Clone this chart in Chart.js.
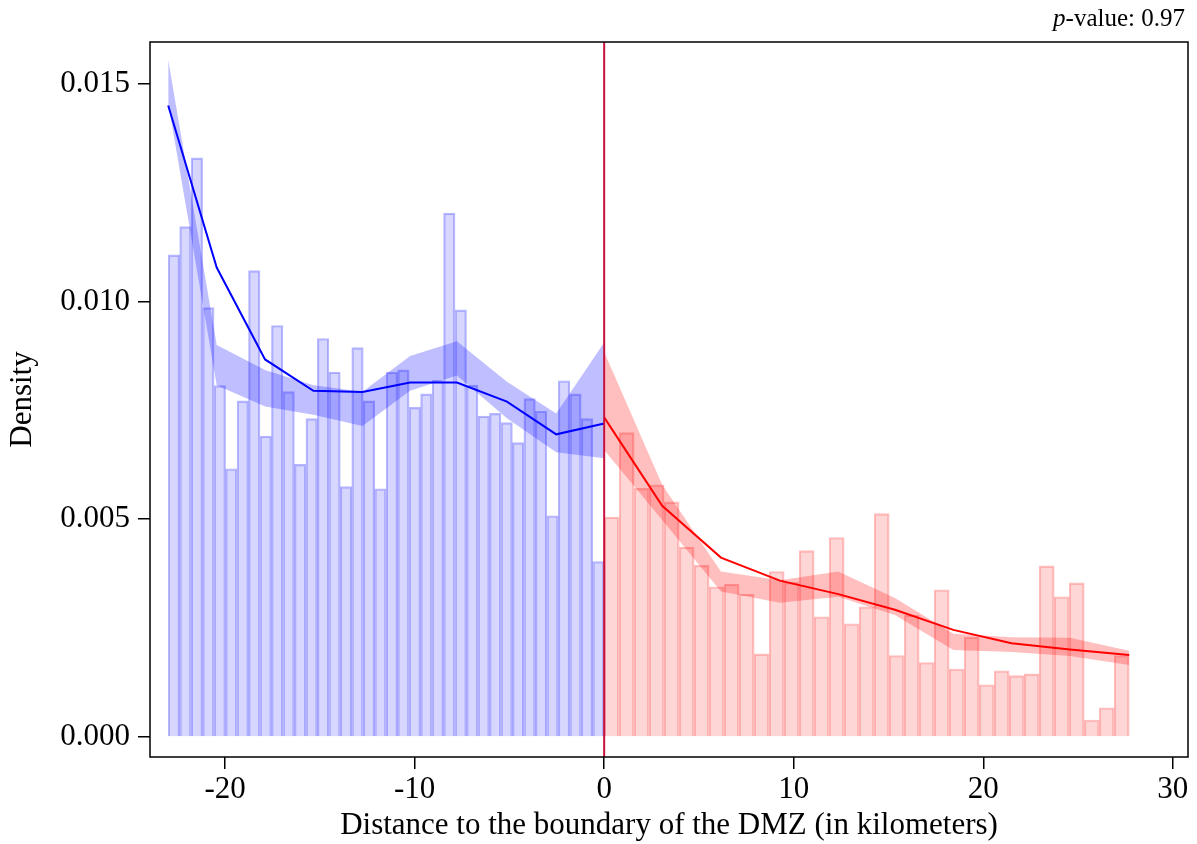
<!DOCTYPE html>
<html>
<head>
<meta charset="utf-8">
<script src="https://cdn.jsdelivr.net/npm/chart.js@4.4.1/dist/chart.umd.min.js"></script>
<style>
  html, body { margin: 0; padding: 0; background: #ffffff; }
  #wrap { width: 1197px; height: 844px; position: relative; }
</style>
</head>
<body>
<div id="wrap"><canvas id="c" width="1197" height="844"></canvas></div>
<script>
// ---------- DATA ----------
// histogram bins (left of the boundary: 38 bins from -23 to 0; right: 35 bins from 0 to 27.7)
const blueBinStart = -23.0;
const blueBinEnd = 0.0;
const redBinStart = 0.0;
const redBinEnd = 27.7;

const blueDensity = [0.01107,0.01172,0.01330,0.00986,0.00807,0.00616,0.00772,0.01071,0.00691,0.00945,
                     0.00793,0.00626,0.00731,0.00915,0.00838,0.00575,0.00894,0.00772,0.00570,0.00838,
                     0.00843,0.00757,0.00788,0.00819,0.01203,0.00981,0.00808,0.00737,0.00743,0.00722,
                     0.00676,0.00777,0.00748,0.00508,0.00818,0.00788,0.00731,0.00403];
const redDensity  = [0.00505,0.00699,0.00571,0.00579,0.00540,0.00436,0.00394,0.00345,0.00351,0.00328,
                     0.00191,0.00380,0.00355,0.00428,0.00276,0.00458,0.00260,0.00299,0.00513,0.00187,
                     0.00280,0.00171,0.00338,0.00156,0.00229,0.00120,0.00152,0.00141,0.00145,0.00393,
                     0.00322,0.00354,0.00039,0.00067,0.00187];

// fitted density (left side) with confidence band
const blueFitX  = [-23.0,-20.44,-17.89,-15.34,-12.75,-10.24,-7.77,-5.13,-2.53,0.0];
const blueFit   = [0.01450,0.01078,0.00867,0.00795,0.00792,0.00814,0.00814,0.00770,0.00695,0.00720];
const blueUpper = [0.01555,0.00900,0.00843,0.00808,0.00793,0.00875,0.00909,0.00816,0.00743,0.00906];
const blueLower = [0.01456,0.00808,0.00759,0.00740,0.00714,0.00795,0.00830,0.00732,0.00654,0.00640];

// fitted density (right side) with confidence band
const redFitX  = [0.0,3.06,6.16,9.27,12.35,15.34,18.42,21.49,24.57,27.7];
const redFit   = [0.00734,0.00531,0.00412,0.00359,0.00328,0.00292,0.00246,0.00215,0.00201,0.00188];
const redUpper = [0.00884,0.00579,0.00380,0.00360,0.00380,0.00319,0.00237,0.00229,0.00228,0.00198];
const redLower = [0.00659,0.00498,0.00334,0.00308,0.00322,0.00280,0.00200,0.00195,0.00186,0.00165];

const xTicks = [-20,-10,0,10,20,30];
const yTicks = [0.000,0.005,0.010,0.015];
const xTitle = 'Distance to the boundary of the DMZ (in kilometers)';
const yTitle = 'Density';
const pValueText = '0.97';
const cutoff = 0;

// ---------- BUILD ----------
function binCenters(start, end, n) {
  const w = (end - start) / n;
  const out = [];
  for (let i = 0; i < n; i++) out.push(start + w * (i + 0.5));
  return out;
}
const blueCenters = binCenters(blueBinStart, blueBinEnd, blueDensity.length);
const redCenters = binCenters(redBinStart, redBinEnd, redDensity.length);
const pts = (xs, ys) => xs.map((x, i) => ({x: x, y: ys[i]}));

const X_MIN = -23.96, X_MAX = 30.8, Y_MIN = -0.00046, Y_MAX = 0.01596;
const SERIF = '"Liberation Serif", "DejaVu Serif", serif';
const FS = 31;

const framePlugin = {
  id: 'frame',
  afterDatasetsDraw(chart) {
    const {ctx, chartArea: a} = chart;
    ctx.save();
    ctx.strokeStyle = '#000';
    ctx.lineWidth = 1.5;
    ctx.strokeRect(a.left, a.top, a.right - a.left, a.bottom - a.top);
    ctx.restore();
  },
  afterDraw(chart) {
    const {ctx, chartArea: a} = chart;
    ctx.save();
    ctx.fillStyle = '#000';
    ctx.textBaseline = 'alphabetic';
    const rest = '-value: ' + pValueText;
    ctx.font = '25px ' + SERIF;
    const wRest = ctx.measureText(rest).width;
    ctx.font = 'italic 25px ' + SERIF;
    const wP = ctx.measureText('p').width;
    const xr = a.right - 3, yb = 26;
    ctx.fillText('p', xr - wRest - wP, yb);
    ctx.font = '25px ' + SERIF;
    ctx.fillText(rest, xr - wRest, yb);
    ctx.restore();
  }
};

const hiddenX = {type: 'linear', min: X_MIN, max: X_MAX, display: false, offset: false, grid: {offset: false}};

new Chart(document.getElementById('c'), {
  type: 'bar',
  data: {
    datasets: [
      { type: 'bar', xAxisID: 'xb', data: pts(blueCenters, blueDensity),
        backgroundColor: 'rgba(0,0,255,0.16)', borderColor: 'rgba(0,0,255,0.28)', borderWidth: 1.5,
        barPercentage: 1, categoryPercentage: 1, grouped: false, order: 6 },
      { type: 'bar', xAxisID: 'xr', data: pts(redCenters, redDensity),
        backgroundColor: 'rgba(255,0,0,0.16)', borderColor: 'rgba(255,0,0,0.25)', borderWidth: 1.5,
        barPercentage: 1, categoryPercentage: 1, grouped: false, order: 6 },
      { type: 'line', data: pts(blueFitX, blueUpper), borderWidth: 0, pointRadius: 0,
        backgroundColor: 'rgba(0,0,255,0.25)', fill: '+1', order: 4 },
      { type: 'line', data: pts(blueFitX, blueLower), borderWidth: 0, pointRadius: 0, fill: false, order: 4 },
      { type: 'line', data: pts(redFitX, redUpper), borderWidth: 0, pointRadius: 0,
        backgroundColor: 'rgba(255,0,0,0.25)', fill: '+1', order: 4 },
      { type: 'line', data: pts(redFitX, redLower), borderWidth: 0, pointRadius: 0, fill: false, order: 4 },
      { type: 'line', data: pts(blueFitX, blueFit), borderColor: '#0000ff', borderWidth: 2,
        pointRadius: 0, fill: false, order: 2 },
      { type: 'line', data: pts(redFitX, redFit), borderColor: '#ff0000', borderWidth: 2,
        pointRadius: 0, fill: false, order: 2 },
      { type: 'line', data: [{x: cutoff, y: Y_MIN}, {x: cutoff, y: Y_MAX}], borderColor: '#c8103c', borderWidth: 2,
        pointRadius: 0, fill: false, order: 1 }
    ]
  },
  options: {
    responsive: false,
    animation: false,
    events: [],
    layout: { padding: { top: 42, right: 9, left: 0, bottom: 0 } },
    plugins: { legend: { display: false }, tooltip: { enabled: false } },
    scales: {
      x: {
        type: 'linear', min: X_MIN, max: X_MAX, offset: false,
        afterBuildTicks: s => { s.ticks = xTicks.map(v => ({value: v})); },
        afterFit: s => { s.height = 87; },
        grid: { display: true, drawOnChartArea: false, drawTicks: true, tickLength: 12, color: '#000', lineWidth: 1.5, offset: false },
        border: { display: false },
        ticks: { color: '#000', font: { family: SERIF, size: FS }, padding: 2, maxRotation: 0,
                 callback: v => String(v) },
        title: { display: true, text: xTitle, color: '#000', font: { family: SERIF, size: FS }, padding: { top: 0, bottom: 0 } }
      },
      xb: hiddenX,
      xr: hiddenX,
      y: {
        type: 'linear', min: Y_MIN, max: Y_MAX,
        afterBuildTicks: s => { s.ticks = yTicks.map(v => ({value: v})); },
        afterFit: s => { s.width = 150; },
        grid: { display: true, drawOnChartArea: false, drawTicks: true, tickLength: 12, color: '#000', lineWidth: 1.5 },
        border: { display: false },
        ticks: { color: '#000', font: { family: SERIF, size: FS }, padding: 8,
                 callback: v => Number(v).toFixed(3) },
        title: { display: true, text: yTitle, color: '#000', font: { family: SERIF, size: FS }, padding: { top: 4, bottom: 0 } }
      }
    }
  },
  plugins: [framePlugin]
});
</script>
</body>
</html>
